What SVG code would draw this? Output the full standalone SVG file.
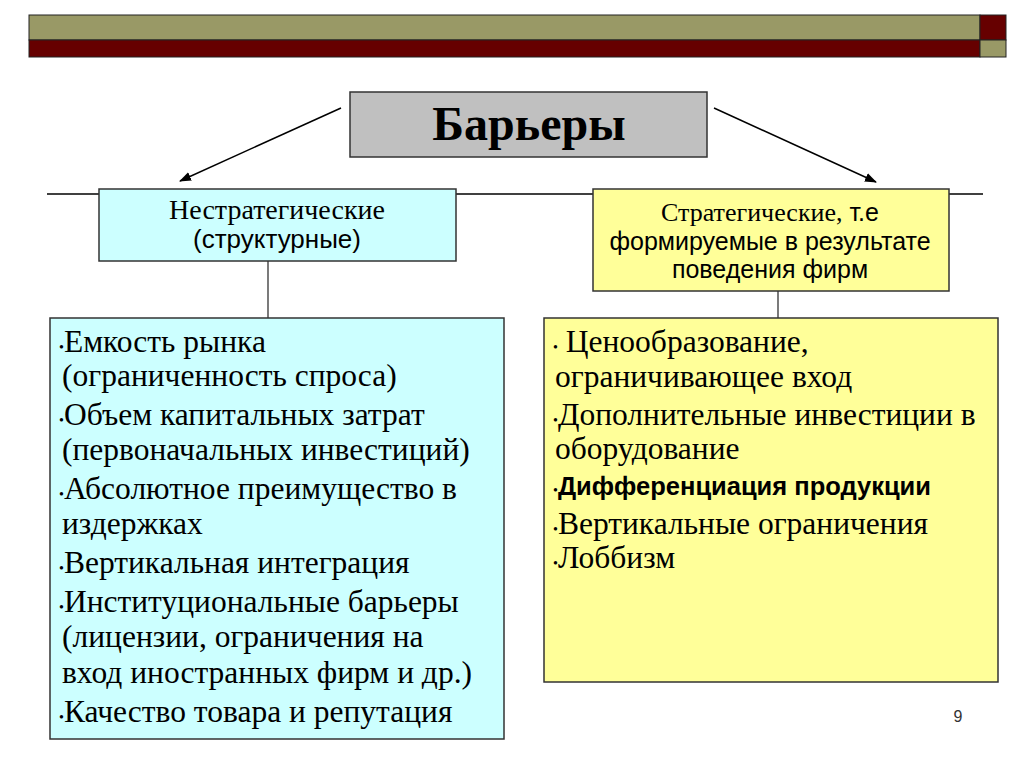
<svg xmlns="http://www.w3.org/2000/svg" width="1024" height="767" viewBox="0 0 1024 767">
<defs>
<style>
.bx{stroke:#333;stroke-width:1.5}
.serif{font-family:"Liberation Serif","Times New Roman",serif;fill:#000}
.sans{font-family:"Liberation Sans",Arial,sans-serif;fill:#000}
.lst{font-size:31.5px}
.bul{font-size:14px}
.conn{stroke:#000;stroke-width:1.5;fill:none}
.vl{stroke:#333;stroke-width:1.3;fill:none}
</style>
<marker id="ah" viewBox="0 0 12 10" refX="11" refY="5" markerWidth="12" markerHeight="10" markerUnits="userSpaceOnUse" orient="auto">
<path d="M0,0.5 L12,5 L0,9.5 Z" fill="#000"/>
</marker>
</defs>
<rect width="1024" height="767" fill="#fff"/>
<g id="header-bar">
<rect x="29" y="15" width="951" height="25" fill="#999966" stroke="#222" stroke-width="1"/>
<rect x="29" y="40" width="951" height="17" fill="#660000" stroke="#222" stroke-width="1"/>
<rect x="980" y="15" width="26" height="25" fill="#660000" stroke="#222" stroke-width="1"/>
<rect x="980" y="40" width="26" height="17" fill="#999966" stroke="#222" stroke-width="1"/>
</g>
<g id="connectors">
<line class="conn" x1="47" y1="194" x2="983" y2="194"/>
<line class="conn" x1="341" y1="108" x2="180" y2="181" marker-end="url(#ah)"/>
<line class="conn" x1="714" y1="108" x2="876" y2="182" marker-end="url(#ah)"/>
<line class="vl" x1="268" y1="261" x2="268" y2="318"/>
<line class="vl" x1="778" y1="290" x2="778" y2="318"/>
</g>
<g id="barriers">
<rect class="bx" x="350" y="92" width="357" height="65" fill="#C0C0C0"/>
<text class="serif" x="529" y="140" font-size="48" font-weight="bold" text-anchor="middle">Барьеры</text>
</g>
<g id="nonstrategic">
<rect class="bx" x="99" y="189" width="357" height="72" fill="#CCFFFF"/>
<text class="serif" x="277" y="219" font-size="28" text-anchor="middle">Нестратегические</text>
<text class="sans" x="277" y="248" font-size="26" text-anchor="middle">(структурные)</text>
</g>
<g id="strategic">
<rect class="bx" x="593" y="189" width="356" height="102" fill="#FFFF99"/>
<text x="770" y="221" font-size="26" text-anchor="middle"><tspan class="serif">Стратегические,</tspan><tspan class="sans" font-size="25"> т.е</tspan></text>
<text class="sans" x="770" y="250" font-size="25" text-anchor="middle">формируемые в результате</text>
<text class="sans" x="770" y="278" font-size="25" text-anchor="middle">поведения фирм</text>
</g>
<g id="nonstrategic-list">
<rect class="bx" x="50" y="318" width="454" height="421" fill="#CCFFFF"/>
<g class="serif lst">
<text x="59" y="352"><tspan class="bul">•</tspan>Емкость рынка</text>
<text x="62" y="386">(ограниченность спроса)</text>
<text x="59" y="425"><tspan class="bul">•</tspan>Объем капитальных затрат</text>
<text x="62" y="460">(первоначальных инвестиций)</text>
<text x="59" y="499"><tspan class="bul">•</tspan>Абсолютное преимущество в</text>
<text x="62" y="534">издержках</text>
<text x="59" y="573"><tspan class="bul">•</tspan>Вертикальная интеграция</text>
<text x="59" y="612"><tspan class="bul">•</tspan>Институциональные барьеры</text>
<text x="62" y="647">(лицензии, ограничения на</text>
<text x="62" y="683">вход иностранных фирм и др.)</text>
<text x="59" y="722"><tspan class="bul">•</tspan>Качество товара и репутация</text>
</g>
</g>
<g id="strategic-list">
<rect class="bx" x="544" y="318" width="454" height="364" fill="#FFFF99"/>
<g class="serif lst">
<text x="553" y="352"><tspan class="bul">•</tspan> Ценообразование,</text>
<text x="555" y="387">ограничивающее вход</text>
<text x="553" y="425"><tspan class="bul">•</tspan>Дополнительные инвестиции в</text>
<text x="555" y="459">оборудование</text>
<text x="553" y="495"><tspan class="bul">•</tspan><tspan class="sans" font-size="25.5" font-weight="bold">Дифференциация продукции</tspan></text>
<text x="553" y="534"><tspan class="bul">•</tspan>Вертикальные ограничения</text>
<text x="553" y="568"><tspan class="bul">•</tspan>Лоббизм</text>
</g>
</g>
<text class="sans" x="958" y="722" font-size="16" text-anchor="middle" style="fill:#333">9</text>
</svg>
